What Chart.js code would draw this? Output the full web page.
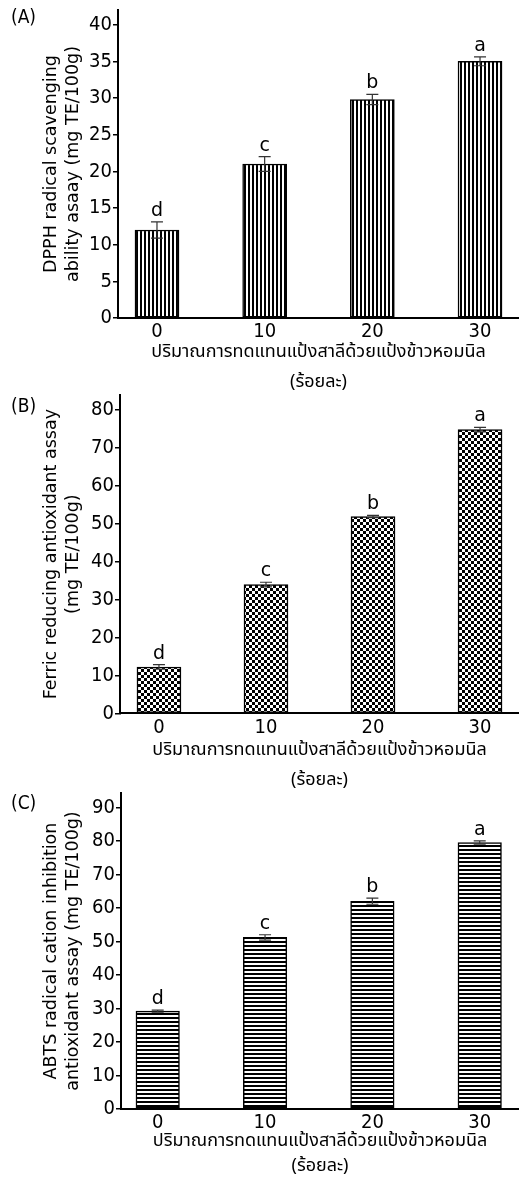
<!DOCTYPE html>
<html>
<head>
<meta charset="utf-8">
<script src="https://cdn.jsdelivr.net/npm/chart.js@4.4.1/dist/chart.umd.min.js"></script>
<style>
  html, body { margin: 0; padding: 0; background: #fff; }
  #page { position: relative; width: 519px; height: 1184px; overflow: hidden; }
  canvas { position: absolute; left: 0; }
  .tag { position: absolute; left: 11px; font: 19px "DejaVu Sans Condensed", "DejaVu Sans", sans-serif; color: #000; line-height: 1; }
</style>
</head>
<body>
<div id="page">
  <canvas id="cA" width="519" height="398" style="top:0"></canvas>
  <canvas id="cB" width="519" height="406" style="top:390px"></canvas>
  <canvas id="cC" width="519" height="395" style="top:785px"></canvas>
  <div class="tag" style="top:7px">(A)</div>
  <div class="tag" style="top:396px">(B)</div>
  <div class="tag" style="top:793px">(C)</div>
</div>
<script>
// ── Data ──────────────────────────────────────
const replace  = [0, 10, 20, 30];
const groups   = ['d', 'c', 'b', 'a'];

const dpph     = [12.0, 21.0, 29.8, 35.0];
const dpphErr  = [1.1, 1.0, 0.7, 0.6];
const frap     = [12.2, 33.9, 51.8, 74.7];
const frapErr  = [0.6, 0.6, 0.3, 0.6];
const abts     = [29.2, 51.2, 62.0, 79.5];
const abtsErr  = [0.3, 0.8, 0.9, 0.5];

const yTitleA  = ['DPPH radical scavenging', 'ability asaay (mg TE/100g)'];
const yTitleB  = ['Ferric reducing antioxidant assay', '(mg TE/100g)'];
const yTitleC  = ['ABTS radical cation inhibition', 'antioxidant assay (mg TE/100g)'];
const xTitle   = ['ปริมาณการทดแทนแป้งสาลีด้วยแป้งข้าวหอมนิล', '(ร้อยละ)'];

const FONT     = '"DejaVu Sans", sans-serif';
const NARROW   = '"DejaVu Sans Condensed", "DejaVu Sans", sans-serif';
const THAI     = '"Noto Sans Thai", "Noto Sans", "DejaVu Sans", sans-serif';

// ── Fill patterns ─────────────────────────────
function makePattern(ctx, kind) {
  const t = document.createElement('canvas');
  const g = t.getContext('2d');
  if (kind === 'v') {
    t.width = 4; t.height = 4;
    g.fillStyle = '#fff'; g.fillRect(0, 0, 4, 4);
    g.fillStyle = '#000'; g.fillRect(0, 0, 2, 4);
  } else if (kind === 'h') {
    t.width = 4; t.height = 4;
    g.fillStyle = '#fff'; g.fillRect(0, 0, 4, 4);
    g.fillStyle = '#000'; g.fillRect(0, 0, 4, 2);
  } else {
    t.width = 6; t.height = 6;
    g.fillStyle = '#fff'; g.fillRect(0, 0, 6, 6);
    g.fillStyle = '#000'; g.fillRect(0, 0, 3, 3); g.fillRect(3, 3, 3, 3);
  }
  return ctx.createPattern(t, 'repeat');
}

// ── Error bars + letters ──────────────────────
const errorBars = {
  id: 'errorBars',
  afterDatasetsDraw(chart, args, opts) {
    const { ctx } = chart;
    const y = chart.scales.y;
    const ds = chart.data.datasets[0];
    ctx.save();
    chart.getDatasetMeta(0).data.forEach((bar, i) => {
      const v = ds.data[i].y, e = opts.errors[i];
      const top = y.getPixelForValue(v + e);
      const bot = y.getPixelForValue(v - e);
      ctx.strokeStyle = '#333';
      ctx.lineWidth = 1.2;
      ctx.beginPath();
      ctx.moveTo(bar.x, top);     ctx.lineTo(bar.x, bot);
      ctx.moveTo(bar.x - 6, top); ctx.lineTo(bar.x + 6, top);
      ctx.moveTo(bar.x - 6, bot); ctx.lineTo(bar.x + 6, bot);
      ctx.stroke();
      ctx.fillStyle = '#000';
      ctx.font = '19px ' + FONT;
      ctx.textAlign = 'center';
      ctx.textBaseline = 'alphabetic';
      ctx.fillText(opts.groups[i], bar.x, top - 6);
    });
    ctx.restore();
  }
};

// ── Panel builder ─────────────────────────────
function panel(id, vals, errs, yTitle, c) {
  const el  = document.getElementById(id);
  const ctx = el.getContext('2d');
  return new Chart(el, {
    type: 'bar',
    data: {
      datasets: [{
        data: replace.map((x, i) => ({ x, y: vals[i] })),
        backgroundColor: makePattern(ctx, c.fill),
        borderColor: '#000',
        borderWidth: 1.5,
        borderSkipped: false,
        barThickness: c.barW
      }]
    },
    options: {
      responsive: false,
      animation: false,
      layout: { padding: { top: c.top, left: 0, right: 0, bottom: 0 } },
      plugins: {
        legend: { display: false },
        tooltip: { enabled: false },
        errorBars: { errors: errs, groups }
      },
      scales: {
        x: {
          type: 'linear', min: c.xMin, max: c.xMax, offset: false,
          grid: { display: false, drawTicks: false },
          border: { color: '#000', width: 2 },
          afterBuildTicks: s => { s.ticks = replace.map(v => ({ value: v })); },
          ticks: { color: '#000', font: { family: NARROW, size: 20 }, padding: 2 },
          title: {
            display: true, text: xTitle, color: '#000',
            font: { family: THAI, size: 18, lineHeight: c.xLine / 18 },
            padding: { top: 0, bottom: 0 }
          },
          afterFit: s => { s.height = c.xH; s.paddingLeft = 0; s.paddingRight = 0; }
        },
        y: {
          min: 0, max: c.yMax,
          grid: { drawOnChartArea: false, drawTicks: true, tickLength: 5, color: '#000', lineWidth: 1.5 },
          border: { color: '#000', width: 2 },
          ticks: { stepSize: c.step, includeBounds: false, color: '#000', font: { family: NARROW, size: 20 }, padding: 1 },
          title: {
            display: true, text: yTitle, color: '#000',
            font: { family: FONT, size: 17.5, lineHeight: 22 / 17.5 },
            padding: { top: 40, bottom: 0 }
          },
          afterFit: s => { s.width = c.yW; s.paddingTop = 0; s.paddingBottom = 0; }
        }
      }
    },
    plugins: [errorBars]
  });
}

panel('cA', dpph, dpphErr, yTitleA,
  { fill: 'v', top: 10, xH: 80, yW: 118, yMax: 42, step: 5, xMin: -3.62, xMax: 33.62, barW: 44, xLine: 30 });
panel('cB', frap, frapErr, yTitleB,
  { fill: 'c', top: 5, xH: 82.7, yW: 120, yMax: 83.8, step: 10, xMin: -3.64, xMax: 33.64, barW: 44, xLine: 30 });
panel('cC', abts, abtsErr, yTitleC,
  { fill: 'h', top: 8, xH: 71, yW: 121, yMax: 94.3, step: 10, xMin: -3.42, xMax: 33.66, barW: 43.5, xLine: 25 });
</script>
</body>
</html>
